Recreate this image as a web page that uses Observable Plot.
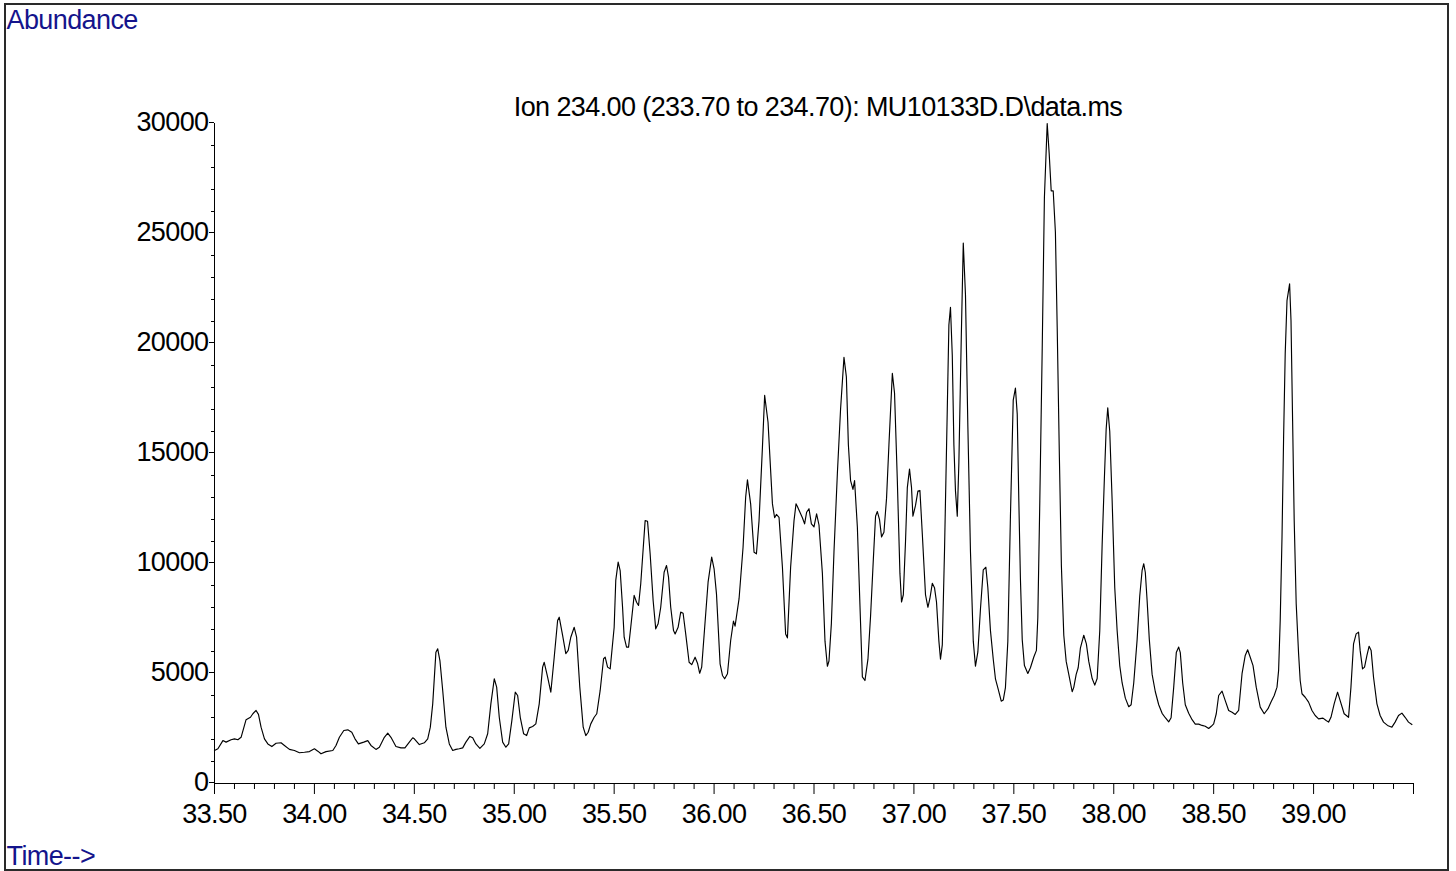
<!DOCTYPE html>
<html><head><meta charset="utf-8">
<script src="https://cdn.jsdelivr.net/npm/d3@7"></script>
<script src="https://cdn.jsdelivr.net/npm/@observablehq/plot@0.6"></script>
<style>
html,body{margin:0;padding:0;background:#fff;}
#wrap{position:relative;width:1456px;height:871px;overflow:hidden;background:#fff;}
#border{position:absolute;left:4px;top:3px;width:1441px;height:864px;border:2px solid #2a2a2a;pointer-events:none;z-index:2;}
</style></head>
<body><div id="wrap"><div id="border"></div></div>
<script>
const titleText = "Ion 234.00 (233.70 to 234.70): MU10133D.D\\data.ms";
const yAxisTitle = "Abundance";
const xAxisTitle = "Time-->";

const times = [
33.500,33.517,33.542,33.558,33.583,33.600,33.617,33.633,33.658,33.680,33.692,33.708,33.720,33.733,33.750,33.767,33.787,33.808,33.833,33.850,
33.875,33.900,33.925,33.950,33.975,34.000,34.017,34.033,34.058,34.092,34.108,34.125,34.147,34.167,34.187,34.203,34.220,34.247,34.267,34.283,
34.308,34.325,34.350,34.367,34.383,34.408,34.433,34.453,34.475,34.492,34.500,34.525,34.550,34.567,34.580,34.592,34.608,34.617,34.628,34.642,
34.658,34.675,34.692,34.708,34.725,34.742,34.758,34.778,34.792,34.808,34.828,34.850,34.867,34.883,34.900,34.912,34.925,34.942,34.958,34.972,
34.988,35.005,35.017,35.030,35.047,35.062,35.075,35.092,35.108,35.125,35.142,35.150,35.167,35.183,35.200,35.217,35.225,35.242,35.258,35.270,
35.283,35.300,35.312,35.328,35.345,35.358,35.370,35.383,35.400,35.413,35.430,35.447,35.455,35.467,35.480,35.500,35.508,35.520,35.530,35.542,
35.550,35.562,35.572,35.583,35.600,35.612,35.622,35.633,35.655,35.667,35.680,35.695,35.708,35.720,35.733,35.750,35.762,35.772,35.783,35.797,
35.805,35.820,35.833,35.845,35.858,35.875,35.888,35.905,35.917,35.928,35.938,35.953,35.970,35.988,36.000,36.012,36.030,36.042,36.053,36.067,
36.083,36.097,36.105,36.125,36.145,36.158,36.167,36.183,36.200,36.212,36.225,36.242,36.253,36.270,36.292,36.303,36.312,36.325,36.342,36.358,
36.367,36.383,36.400,36.410,36.417,36.428,36.442,36.453,36.463,36.475,36.487,36.500,36.513,36.525,36.542,36.555,36.567,36.575,36.587,36.600,
36.617,36.633,36.650,36.662,36.672,36.683,36.695,36.703,36.717,36.730,36.742,36.755,36.770,36.783,36.797,36.808,36.817,36.828,36.838,36.850,
36.863,36.875,36.892,36.903,36.917,36.930,36.938,36.947,36.958,36.967,36.978,36.988,36.995,37.008,37.020,37.030,37.042,37.058,37.070,37.080,
37.092,37.103,37.113,37.125,37.133,37.142,37.153,37.167,37.175,37.183,37.192,37.200,37.208,37.217,37.225,37.237,37.247,37.258,37.270,37.283,
37.297,37.308,37.320,37.333,37.347,37.360,37.370,37.383,37.397,37.408,37.422,37.437,37.447,37.458,37.470,37.483,37.497,37.508,37.517,37.525,
37.533,37.542,37.553,37.570,37.583,37.600,37.613,37.620,37.630,37.642,37.653,37.667,37.677,37.687,37.697,37.708,37.717,37.728,37.738,37.750,
37.762,37.775,37.792,37.800,37.812,37.822,37.833,37.850,37.863,37.875,37.892,37.905,37.917,37.930,37.942,37.953,37.962,37.970,37.980,37.992,
38.005,38.017,38.030,38.042,38.058,38.075,38.087,38.100,38.117,38.130,38.142,38.150,38.158,38.167,38.178,38.192,38.208,38.225,38.242,38.258,
38.275,38.287,38.300,38.313,38.325,38.333,38.345,38.358,38.375,38.392,38.408,38.425,38.442,38.458,38.475,38.488,38.500,38.513,38.525,38.542,
38.558,38.575,38.592,38.608,38.625,38.642,38.658,38.670,38.683,38.697,38.713,38.733,38.753,38.772,38.787,38.803,38.817,38.825,38.833,38.842,
38.850,38.858,38.867,38.880,38.887,38.895,38.903,38.913,38.925,38.933,38.942,38.958,38.975,38.992,39.008,39.025,39.047,39.063,39.075,39.087,
39.103,39.120,39.133,39.153,39.175,39.187,39.200,39.213,39.225,39.233,39.245,39.255,39.267,39.278,39.288,39.300,39.317,39.333,39.350,39.370,
39.392,39.408,39.425,39.442,39.458,39.475,39.492
];

const abundance = [
1500,1580,1950,1880,1990,2030,1990,2100,2900,3010,3170,3320,3140,2560,2030,1800,1680,1830,1850,1730,
1550,1500,1400,1420,1450,1580,1470,1350,1450,1500,1730,2100,2410,2440,2330,2030,1800,1880,1950,1730,
1550,1650,2100,2290,2100,1680,1620,1620,1880,2080,2030,1770,1850,2030,2560,3620,5970,6120,5590,4230,
2560,1800,1500,1550,1580,1620,1880,2140,2080,1800,1600,1800,2260,3620,4760,4380,3010,1880,1650,1800,
2860,4150,4000,3010,2260,2180,2530,2590,2710,3620,5290,5510,4830,4150,5740,7410,7560,6730,5900,6050,
6650,7100,6650,4380,2560,2180,2330,2710,3010,3170,4230,5670,5740,5290,5210,7100,9230,10060,9680,8010,
6650,6200,6200,7100,8550,8240,8090,9080,11950,11920,10440,8320,7030,7260,8010,9600,9910,9380,8010,6950,
6800,7100,7790,7740,6800,5510,5400,5740,5470,5010,5290,7100,9150,10290,9760,8620,5440,4910,4760,4990,
6500,7380,7150,8400,10740,13010,13800,12710,10510,10440,11950,15290,17640,16420,12710,12080,12230,12100,9830,6800,
6620,9830,11950,12710,12590,12360,12080,11800,12330,12490,11800,11660,12260,11750,9550,6470,5330,5570,7280,10530,
14100,17020,19370,18480,15400,13770,13370,13770,11660,8090,4850,4680,5650,7600,10200,12150,12360,11990,11210,11420,
12960,15400,18640,17750,13770,9550,8250,8580,11010,13450,14290,13450,12150,12640,13290,13320,11340,8580,8010,8410,
9100,8900,8250,6470,5650,6300,10530,17020,20840,21640,19450,15400,13290,12150,14590,20270,24570,22210,16210,10530,
6470,5330,5980,7930,9710,9830,8900,6950,5650,4760,4280,3740,3790,4360,6470,12150,17430,17970,16790,12850,
9300,6540,5360,5000,5260,5750,6050,7530,12850,19750,26650,30000,28620,26940,26940,25070,20740,14820,9890,6740,
5550,4960,4170,4370,4960,5260,6150,6740,6350,5550,4770,4470,4770,6940,10880,13840,16100,17080,16000,12850,
8910,6940,5360,4570,3880,3490,3580,4570,6540,8510,9690,9990,9590,8310,6540,4960,4170,3580,3190,2990,
2800,2990,4370,5950,6200,5950,4570,3580,3190,2900,2700,2700,2640,2600,2500,2600,2710,3170,4000,4200,
3770,3320,3240,3140,3320,4990,5820,6080,5740,5360,4380,3470,3170,3400,3700,4000,4380,5140,7410,11200,
15740,19530,21950,22710,21050,16500,11950,8170,5900,4680,4080,3920,3700,3320,3090,2940,2970,2860,2790,3010,
3620,4150,3770,3170,3010,4380,6350,6800,6880,6050,5210,5290,5820,6240,6050,4830,3620,3090,2790,2640,
2560,2790,3090,3200,3010,2790,2680
];

const yMajorTicks = [0, 5000, 10000, 15000, 20000, 25000, 30000];
const yMinorTicks = [1000,2000,3000,4000,6000,7000,8000,9000,11000,12000,13000,14000,16000,17000,18000,19000,21000,22000,23000,24000,26000,27000,28000,29000];
const xMajorTicks = [33.5, 34.0, 34.5, 35.0, 35.5, 36.0, 36.5, 37.0, 37.5, 38.0, 38.5, 39.0, 39.5];
const xTickLabels = ["33.50","34.00","34.50","35.00","35.50","36.00","36.50","37.00","37.50","38.00","38.50","39.00",""];
const xMinorTicks = [33.6,33.7,33.8,33.9,34.1,34.2,34.3,34.4,34.6,34.7,34.8,34.9,35.1,35.2,35.3,35.4,35.6,35.7,35.8,35.9,36.1,36.2,36.3,36.4,36.6,36.7,36.8,36.9,37.1,37.2,37.3,37.4,37.6,37.7,37.8,37.9,38.1,38.2,38.3,38.4,38.6,38.7,38.8,38.9,39.1,39.2,39.3,39.4];

const data = times.map((t, i) => ({t, v: abundance[i]}));
const xLabelMap = new Map(xMajorTicks.map((d, i) => [d, xTickLabels[i]]));
const blue = "#14148c";

const chart = Plot.plot({
  width: 1456, height: 871,
  marginLeft: 214, marginRight: 43, marginTop: 123, marginBottom: 88,
  style: {fontFamily: "'Liberation Sans', Arial, sans-serif", fontSize: "27px", letterSpacing: "-0.6px", background: "transparent", color: "#000"},
  x: {domain: [33.5, 39.5]},
  y: {domain: [0, 30000]},
  marks: [
    Plot.axisY(yMinorTicks, {tickSize: 3, tickFormat: () => "", label: null}),
    Plot.axisY(yMajorTicks, {tickSize: 5, tickPadding: 1, tickFormat: d => String(d), label: null, dy: -1}),
    Plot.axisX(xMinorTicks, {tickSize: 6, tickFormat: () => "", label: null}),
    Plot.axisX(xMajorTicks, {tickSize: 11, tickPadding: 9, tickFormat: d => xLabelMap.get(d) ?? "", label: null}),
    Plot.ruleX([33.5], {stroke: "#000"}),
    Plot.ruleY([0], {stroke: "#000"}),
    Plot.line(data, {x: "t", y: "v", stroke: "#000", strokeWidth: 1.15}),
    Plot.text([titleText], {text: d => d, frameAnchor: "top", dx: 4, dy: -26.5, fill: "#000"}),
    Plot.text([yAxisTitle], {text: d => d, frameAnchor: "top-left", textAnchor: "start", dx: -208, dy: -114, fill: blue}),
    Plot.text([xAxisTitle], {text: d => d, frameAnchor: "bottom-left", textAnchor: "start", dx: -208, dy: 81, fill: blue})
  ]
});
document.getElementById("wrap").appendChild(chart);
</script>
</body></html>
